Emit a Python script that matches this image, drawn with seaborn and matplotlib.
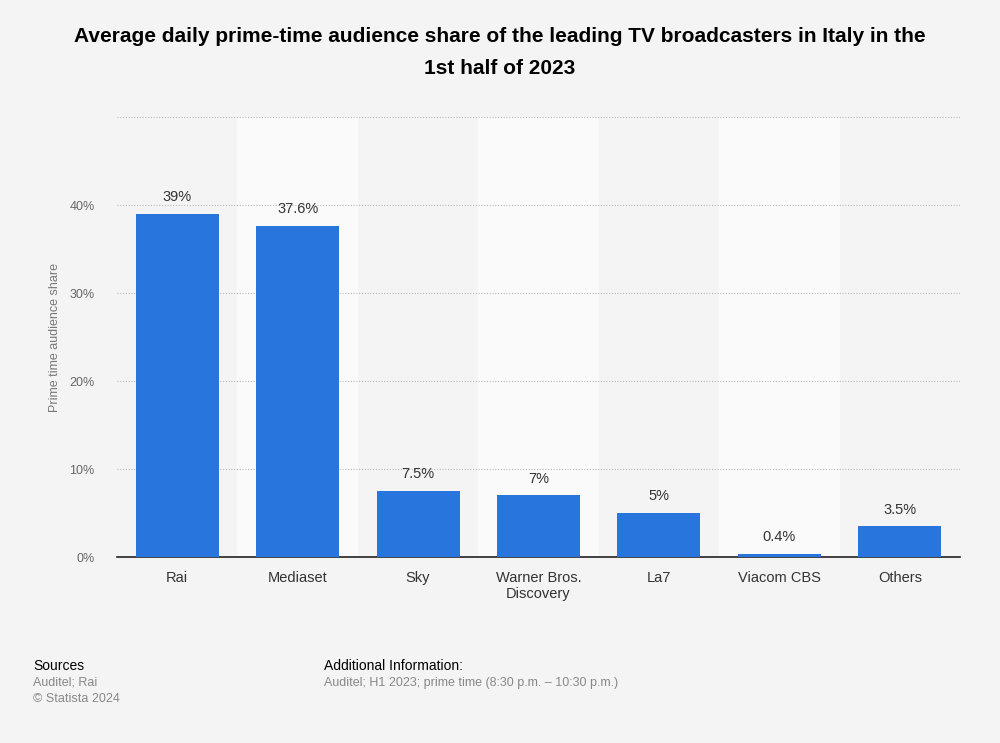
import numpy as np, pandas as pd
import matplotlib
matplotlib.use("Agg")
import matplotlib.pyplot as plt
import seaborn as sns

# data
broadcasters = ["Rai", "Mediaset", "Sky", "Warner Bros.\nDiscovery", "La7", "Viacom CBS", "Others"]
share = [39.0, 37.6, 7.5, 7.0, 5.0, 0.4, 3.5]
share_labels = ["39%", "37.6%", "7.5%", "7%", "5%", "0.4%", "3.5%"]
y_ticks = [0, 10, 20, 30, 40, 50]
y_tick_labels = ["0%", "10%", "20%", "30%", "40%", ""]

bg = "#f4f4f4"
sns.set_style("white")
plt.rcParams["font.family"] = ["Liberation Sans", "DejaVu Sans"]

df = pd.DataFrame({"broadcaster": broadcasters, "share": share})

fig = plt.figure(figsize=(10, 7.43), dpi=100, facecolor=bg)
ax = fig.add_axes([0.117, 0.2503, 0.843, 0.5922])
ax.set_facecolor(bg)

# alternating column bands
for i in range(len(broadcasters)):
    if i % 2 == 1:
        ax.axvspan(i - 0.5, i + 0.5, color="#fafafa", zorder=0, lw=0)

sns.barplot(data=df, x="broadcaster", y="share", color="#2876dd", width=0.69,
            saturation=1, linewidth=0, ax=ax, zorder=3)

for i, (v, lab) in enumerate(zip(share, share_labels)):
    ax.text(i, v + 1.1, lab, ha="center", va="bottom", fontsize=10.5, color="#333333", zorder=4)

ax.set_xlim(-0.5, len(broadcasters) - 0.5)
ax.set_ylim(0, 50)
ax.set_yticks(y_ticks)
ax.set_yticklabels(y_tick_labels, fontsize=9, color="#666666")
ax.yaxis.grid(True, linestyle=(0, (1, 1.5)), color="#bbbbbb", lw=0.8, zorder=1)
ax.set_axisbelow(True)
ax.tick_params(axis="y", length=0, pad=16)
ax.tick_params(axis="x", length=0, pad=10, labelsize=10.5, labelcolor="#333333")
for s in ["top", "right", "left"]:
    ax.spines[s].set_visible(False)
ax.spines["bottom"].set_color("#222222")
ax.spines["bottom"].set_linewidth(1.2)
ax.set_xlabel("")
ax.set_ylabel("Prime time audience share", fontsize=9, color="#777777", labelpad=6)

fig.text(0.5, 0.963, "Average daily prime-time audience share of the leading TV broadcasters in Italy in the\n1st half of 2023",
         ha="center", va="top", fontsize=15, fontweight="bold", color="#000000", linespacing=1.85)

fig.text(0.033, 0.103, "Sources", fontsize=10, color="#000000", va="center")
fig.text(0.033, 0.081, "Auditel; Rai", fontsize=9, color="#888888", va="center")
fig.text(0.033, 0.0595, "\u00a9 Statista 2024", fontsize=9, color="#888888", va="center")
fig.text(0.324, 0.103, "Additional Information:", fontsize=10, color="#000000", va="center")
fig.text(0.324, 0.081, "Auditel; H1 2023; prime time (8:30 p.m. \u2013 10:30 p.m.)", fontsize=9, color="#888888", va="center")

fig.savefig("out.png", dpi=100, facecolor=bg)
